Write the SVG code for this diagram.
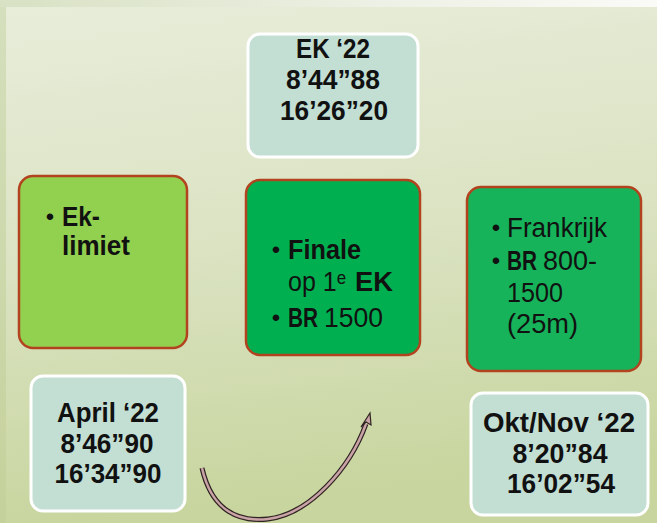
<svg xmlns="http://www.w3.org/2000/svg" width="657" height="523" viewBox="0 0 657 523">
  <defs>
    <linearGradient id="bg" x1="0" y1="0" x2="0.15" y2="1">
      <stop offset="0" stop-color="#e8edda"/>
      <stop offset="0.5" stop-color="#dbe3c3"/>
      <stop offset="1" stop-color="#c8d59e"/>
    </linearGradient>
    <linearGradient id="strip" x1="0" y1="0" x2="0" y2="1">
      <stop offset="0" stop-color="#d5dfbd"/>
      <stop offset="1" stop-color="#c5d19b"/>
    </linearGradient>
    <linearGradient id="band" x1="0" y1="0" x2="1" y2="0">
      <stop offset="0" stop-color="#d8e1c3"/>
      <stop offset="0.6" stop-color="#eef1e6"/>
      <stop offset="1" stop-color="#fafbf7"/>
    </linearGradient>
    <style>
      .info { fill: #c3dfd4; stroke: #ffffff; stroke-width: 3; }
      .goal { stroke: #b3431f; stroke-width: 2.5; }
      text { font-family: "Liberation Sans", "DejaVu Sans", Arial, sans-serif; font-size: 27px; fill: #111111; }
      .b { font-weight: bold; }
      .r { font-weight: normal; }
      .c { text-anchor: middle; font-weight: bold; }
      .dot { text-anchor: middle; font-size: 24px; }
    </style>
  </defs>

  <!-- background -->
  <rect x="0" y="0" width="657" height="523" fill="url(#bg)"/>
  <rect x="0" y="0" width="6" height="523" fill="url(#strip)"/>
  <rect x="0" y="0" width="657" height="7" fill="url(#band)"/>

  <!-- top: EK '22 -->
  <g id="ek22">
    <rect class="info" x="248" y="34" width="170" height="123" rx="12"/>
    <text class="c" x="333" y="58" textLength="74" lengthAdjust="spacingAndGlyphs">EK ‘22</text>
    <text class="c" x="333" y="89" textLength="94" lengthAdjust="spacingAndGlyphs">8’44”88</text>
    <text class="c" x="334" y="120" textLength="108" lengthAdjust="spacingAndGlyphs">16’26”20</text>
  </g>

  <!-- middle row -->
  <g id="eklimiet">
    <rect class="goal" x="19" y="176" width="168" height="172" rx="14" fill="#92d050"/>
    <text class="dot" x="50" y="225">•</text>
    <text class="b" x="62" y="226" textLength="38" lengthAdjust="spacingAndGlyphs">Ek-</text>
    <text class="b" x="62" y="255" textLength="68" lengthAdjust="spacingAndGlyphs">limiet</text>
  </g>

  <g id="finale">
    <rect class="goal" x="246" y="180" width="174" height="175" rx="14" fill="#00b050"/>
    <text class="dot" x="276" y="258">•</text>
    <text class="b" x="288" y="259" textLength="73" lengthAdjust="spacingAndGlyphs">Finale</text>
    <text class="r" x="288" y="291" textLength="58" lengthAdjust="spacingAndGlyphs">op 1ᵉ</text>
    <text class="b" x="355" y="291" textLength="38" lengthAdjust="spacingAndGlyphs">EK</text>
    <text class="dot" x="276" y="326">•</text>
    <text class="b" x="288" y="327" textLength="30" lengthAdjust="spacingAndGlyphs">BR</text>
    <text class="r" x="324" y="327" textLength="59" lengthAdjust="spacingAndGlyphs">1500</text>
  </g>

  <g id="frankrijk">
    <rect class="goal" x="467" y="187" width="174" height="184" rx="14" fill="#16b35a"/>
    <text class="dot" x="496" y="236">•</text>
    <text class="r" x="507" y="237" textLength="100" lengthAdjust="spacingAndGlyphs">Frankrijk</text>
    <text class="dot" x="496" y="269">•</text>
    <text class="b" x="507" y="270" textLength="30" lengthAdjust="spacingAndGlyphs">BR</text>
    <text class="r" x="543" y="270" textLength="54" lengthAdjust="spacingAndGlyphs">800-</text>
    <text class="r" x="507" y="302" textLength="56" lengthAdjust="spacingAndGlyphs">1500</text>
    <text class="r" x="507" y="333" textLength="71" lengthAdjust="spacingAndGlyphs">(25m)</text>
  </g>

  <!-- bottom row -->
  <g id="april22">
    <rect class="info" x="31" y="376" width="154" height="135" rx="12"/>
    <text class="c" x="108" y="422" textLength="102" lengthAdjust="spacingAndGlyphs">April ‘22</text>
    <text class="c" x="107" y="453" textLength="93" lengthAdjust="spacingAndGlyphs">8’46”90</text>
    <text class="c" x="108" y="483" textLength="107" lengthAdjust="spacingAndGlyphs">16’34”90</text>
  </g>

  <g id="oktnov22">
    <rect class="info" x="471" y="393" width="177" height="122" rx="12"/>
    <text class="c" x="559" y="432" textLength="152" lengthAdjust="spacingAndGlyphs">Okt/Nov ‘22</text>
    <text class="c" x="560" y="463" textLength="95" lengthAdjust="spacingAndGlyphs">8’20”84</text>
    <text class="c" x="561" y="493" textLength="108" lengthAdjust="spacingAndGlyphs">16’02”54</text>
  </g>

  <!-- connectors -->
  <g id="connectors">
    <path d="M202,468 C212,512 240,522 268,519 C310,514 350,468 366,424" fill="none" stroke="#2e2222" stroke-width="5" stroke-linecap="butt"/>
    <path d="M202,468 C212,512 240,522 268,519 C310,514 350,468 366,424" fill="none" stroke="#c9a3a6" stroke-width="2.5"/>
    <polygon points="370,413 371,425 366,422 361,427" fill="#c9a3a6" stroke="#2e2222" stroke-width="1.2" stroke-linejoin="miter"/>
  </g>
</svg>
